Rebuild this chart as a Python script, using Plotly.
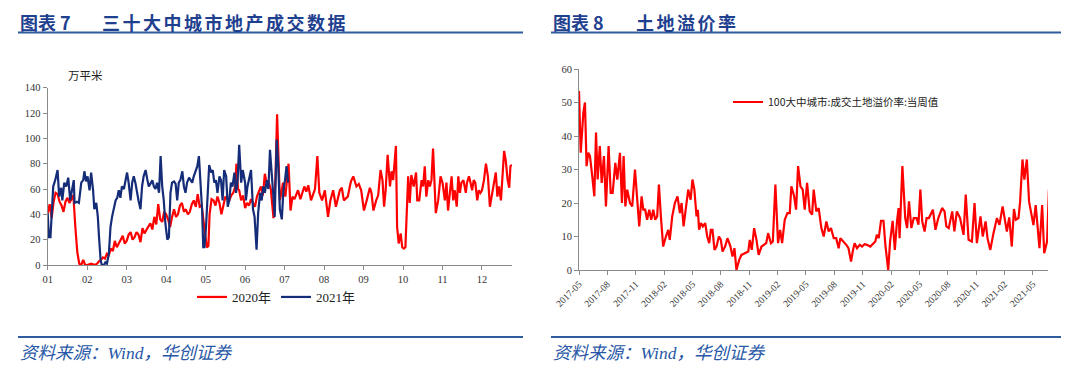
import plotly.graph_objects as go

# ---------------- Left chart: 30 major cities property transactions (万平米) ----------------
month_labels = ["01", "02", "03", "04", "05", "06", "07", "08", "09", "10", "11", "12"]

# x = position in months since Jan 1 (01 tick = 0)
y2020_x = [0.0, 0.05, 0.1, 0.15, 0.2, 0.25, 0.3, 0.35, 0.4, 0.45, 0.5, 0.55, 0.6, 0.65, 0.7, 0.75, 0.8, 0.85, 0.9, 0.95,
           1.0, 1.1, 1.2, 1.25, 1.3, 1.35, 1.4, 1.45, 1.5, 1.55, 1.6, 1.65, 1.7, 1.75, 1.8, 1.85, 1.9, 1.95,
           2.0, 2.05, 2.1, 2.15, 2.2, 2.25, 2.3, 2.35, 2.4, 2.45, 2.5, 2.55, 2.6, 2.65, 2.7, 2.75, 2.8, 2.85, 2.9, 2.95,
           3.0, 3.05, 3.1, 3.15, 3.2, 3.25, 3.3, 3.35, 3.4, 3.45, 3.5, 3.55, 3.6, 3.65, 3.7, 3.75, 3.8, 3.85, 3.9, 3.95,
           4.0, 4.03, 4.07, 4.1, 4.15, 4.2, 4.25, 4.3, 4.35, 4.4, 4.45, 4.5, 4.55, 4.6, 4.65, 4.7, 4.75, 4.78, 4.82, 4.85, 4.9, 4.95,
           5.0, 5.05, 5.1, 5.15, 5.2, 5.25, 5.3, 5.35, 5.4, 5.45, 5.5, 5.55, 5.6, 5.65, 5.72, 5.77, 5.81, 5.85, 5.88, 5.93, 5.96,
           6.02, 6.1, 6.15, 6.2, 6.25, 6.34, 6.4, 6.5, 6.55, 6.6, 6.67, 6.77, 6.83, 6.88, 6.95,
           7.02, 7.1, 7.16, 7.23, 7.3, 7.4, 7.45, 7.5, 7.6, 7.68, 7.74, 7.82, 7.88, 7.94,
           8.01, 8.08, 8.16, 8.2, 8.25, 8.32, 8.37, 8.43, 8.48, 8.52, 8.56, 8.61, 8.67, 8.71, 8.75, 8.82, 8.85, 8.89, 8.94, 8.98,
           9.02, 9.06, 9.09, 9.13, 9.17, 9.21, 9.27, 9.33, 9.36, 9.41, 9.47, 9.51, 9.55, 9.59, 9.64, 9.68, 9.72, 9.76, 9.83, 9.89, 9.95,
           10.0, 10.06, 10.1, 10.14, 10.19, 10.23, 10.27, 10.31, 10.36, 10.4, 10.44, 10.48, 10.53, 10.59, 10.62, 10.67, 10.71, 10.75,
           10.79, 10.83, 10.88, 10.92, 10.96, 11.0, 11.05, 11.1, 11.15, 11.2, 11.26, 11.31, 11.35, 11.39, 11.43, 11.48, 11.52, 11.56,
           11.6, 11.65, 11.69, 11.72, 11.76]
y2020_v = [41, 48, 37, 50, 57, 56, 50, 47, 42, 50, 53, 49, 52, 55, 30, 10, 1, 0, 4, 0,
           0, 1, 0, 1, 3, 4, 6, 5, 9, 8, 13, 11, 19, 14, 17, 20, 23, 17,
           19, 24, 26, 20, 22, 26, 24, 18, 29, 25, 28, 31, 33, 28, 38, 32, 48, 36, 34, 42,
           40, 36, 30, 38, 44, 38, 40, 47, 49, 42, 44, 40, 42, 48, 51, 46, 56, 46, 47, 34,
           22, 14, 15, 40, 52, 51, 47, 54, 49, 40, 47, 54, 52, 51, 55, 57, 62, 80, 60, 59, 51, 55,
           45, 49, 47, 52, 49, 46, 54, 58, 62, 55, 72, 64, 65, 60, 37, 70, 119, 80, 51, 59, 65,
           54, 80, 43, 54, 52, 59, 52, 62, 58, 63, 51, 60, 86, 57, 51,
           59, 38, 51, 59, 46, 59, 61, 51, 54, 66, 70, 62, 64, 59,
           43, 51, 61, 57, 43, 51, 55, 75, 67, 46, 59, 87, 62, 74, 67, 94, 30, 17, 25, 14,
           13, 14, 38, 70, 49, 71, 62, 73, 51, 51, 67, 62, 78, 54, 67, 62, 67, 92, 41, 51, 70,
           65, 51, 65, 43, 57, 70, 51, 59, 46, 70, 57, 65, 67, 57, 65, 70, 65, 59,
           67, 65, 51, 59, 57, 59, 67, 80, 70, 46, 57, 67, 73, 54, 62, 51, 75, 90,
           83, 67, 61, 78, 79]

y2021_x = [0.0, 0.03, 0.07, 0.14, 0.19, 0.25, 0.29, 0.34, 0.37, 0.42, 0.47, 0.52, 0.57, 0.62, 0.66, 0.68, 0.74, 0.79, 0.85, 0.9,
           0.93, 0.97, 1.01, 1.06, 1.1, 1.15, 1.18, 1.23, 1.27, 1.3, 1.34, 1.37, 1.42, 1.46, 1.5, 1.55, 1.59, 1.63, 1.67, 1.72,
           1.76, 1.8, 1.84, 1.88, 1.93, 1.97, 2.01, 2.05, 2.1, 2.14, 2.18, 2.22, 2.27, 2.3, 2.35, 2.39, 2.43, 2.48, 2.52, 2.56,
           2.6, 2.65, 2.69, 2.73, 2.77, 2.82, 2.86, 2.9, 2.94, 2.98, 3.03, 3.07, 3.11, 3.15, 3.2, 3.24, 3.28, 3.32, 3.36, 3.41,
           3.45, 3.49, 3.53, 3.58, 3.62, 3.66, 3.7, 3.75, 3.79, 3.83, 3.87, 3.91, 3.94, 3.97, 4.01, 4.05, 4.09, 4.14, 4.18, 4.22,
           4.26, 4.3, 4.35, 4.39, 4.43, 4.47, 4.52, 4.56, 4.6, 4.64, 4.68, 4.73, 4.77, 4.81, 4.85, 4.9, 4.94, 5.0, 5.02, 5.06,
           5.11, 5.15, 5.2, 5.24, 5.29, 5.33, 5.38, 5.42, 5.46, 5.5, 5.55, 5.59, 5.63, 5.67, 5.71, 5.75, 5.8, 5.84, 5.88, 5.93,
           5.97, 6.01, 6.05, 6.09]
y2021_v = [41, 22, 22, 62, 67, 75, 54, 61, 51, 65, 62, 69, 51, 62, 67, 49, 50, 49, 65, 67,
           74, 66, 70, 59, 73, 59, 44, 49, 38, 22, 4, 0, 0, 2, 1, 9, 30, 38, 44, 51,
           53, 59, 53, 62, 60, 67, 73, 65, 51, 65, 70, 65, 55, 51, 44, 62, 70, 75, 68, 62,
           64, 67, 62, 60, 65, 57, 86, 62, 51, 33, 20, 22, 57, 65, 66, 64, 51, 65, 67, 74,
           62, 57, 65, 69, 67, 65, 70, 75, 78, 86, 62, 44, 14, 14, 30, 51, 79, 73, 75, 65,
           67, 57, 70, 67, 51, 75, 70, 46, 51, 65, 62, 73, 57, 67, 95, 65, 75, 65, 51, 62,
           70, 75, 44, 38, 12, 41, 57, 51, 62, 57, 67, 60, 91, 70, 57, 38, 99, 78, 44, 36,
           59, 67, 78, 65]

left_yticks = [0, 20, 40, 60, 80, 100, 120, 140]

# ---------------- Right chart: land premium rate (%) ----------------
quarter_labels = ["2017-05", "2017-08", "2017-11", "2018-02", "2018-05", "2018-08", "2018-11", "2019-02",
                  "2019-05", "2019-08", "2019-11", "2020-02", "2020-05", "2020-08", "2020-11", "2021-02", "2021-05"]
# x = months since 2017-05
prem_x = [0, 0.1, 0.18, 0.3, 0.46, 0.63, 0.8, 0.98, 1.16, 1.4, 1.62, 1.8, 1.97, 2.2, 2.4, 2.64, 2.85, 3.13, 3.35, 3.56,
          3.84, 4.05, 4.33, 4.54, 4.72, 4.9, 5.1, 5.39, 5.63, 5.92, 6.16, 6.37, 6.62, 6.8, 7.0, 7.2, 7.43, 7.64, 7.85,
          8.06, 8.27, 8.45, 8.66, 8.9, 9.19, 9.44, 9.6, 9.86, 10.14, 10.42, 10.67, 10.85, 11.06, 11.27, 11.55, 11.8,
          12.0, 12.2, 12.43, 12.57, 12.7, 12.9, 13.1, 13.35, 13.56, 13.77, 13.94, 14.12, 14.33, 14.54, 14.8, 15.0,
          15.18, 15.45, 15.7, 16.02, 16.23, 16.44, 16.65, 16.94, 17.18, 17.54, 17.9, 18.06, 18.27, 18.52, 18.77, 19.0,
          19.3, 19.8, 20.0, 20.3, 20.5, 20.77, 21.05, 21.27, 21.48, 21.76, 22.04, 22.29, 22.46, 22.75, 22.96, 23.17,
          23.42, 23.66, 23.87, 24.12, 24.4, 24.65, 24.82, 25.1, 25.35, 25.63, 25.88, 26.16, 26.4, 26.65, 26.94, 27.2,
          27.46, 27.64, 28.0, 28.27, 28.5, 28.77, 28.98, 29.15, 29.4, 29.7, 29.93, 30.2, 30.46, 30.8, 31.34, 31.5,
          31.7, 31.94, 32.2, 32.4, 32.7, 32.9, 33.17, 33.4, 33.63, 33.8, 33.9, 34.2, 34.5, 34.7, 34.9, 35.15, 35.4,
          35.7, 35.9, 36.1, 36.3, 36.55, 36.76, 37.0, 37.43, 37.7, 38.0, 38.4, 38.66, 38.85, 39.1, 39.47, 39.7, 39.96,
          40.3, 40.67, 40.9, 41.2, 41.55, 41.83, 42.08, 42.46, 42.7, 43.0, 43.2, 43.5, 43.8, 44.2, 44.47, 44.8, 45.25,
          45.5, 45.77, 46.0, 46.2, 46.48, 46.65, 46.9, 47.1, 47.36, 47.6, 47.8, 48.06, 48.3, 48.7, 48.98, 49.2, 49.5, 49.7]
prem_v = [53.4, 44, 35, 40, 47, 50, 31, 35, 34, 28, 22, 41, 27, 37, 26, 34, 19, 37, 23, 23,
          32, 27, 35, 20, 34, 19, 24, 20, 19, 30, 19, 13, 22, 18, 18, 15, 18, 15, 18,
          15, 16, 25.5, 16, 7, 10, 12, 9, 16, 20, 22, 17, 20, 13, 18, 24, 21,
          27, 24, 16, 18, 12, 14, 13, 14, 10, 8, 12, 12, 6, 7, 10, 9,
          5.5, 7, 9.5, 7, 4, 6.5, 0, 3, 4.5, 5, 5.5, 9, 6, 12.5, 9, 4.5,
          7, 8, 11, 8, 8.5, 25.5, 8, 12, 8, 15, 17, 17, 25, 22, 18, 31,
          25, 24, 18, 26, 17.5, 16.5, 24, 17.5, 18.5, 12.5, 10, 14.5, 11.5, 12.5, 9.5, 9.5,
          6.5, 9.5, 8.5, 7.5, 6.5, 2.5, 6, 8, 6.5, 7.5, 7, 7.7, 7.5, 7, 8.5, 10.5,
          9.5, 14.7, 14.7, 7.5, 0, 8.5, 14.7, 6, 14.5, 18.5, 9.5, 31, 15.5, 12.5, 20.5, 12.5, 15.5,
          15.5, 13.5, 24, 14.5, 11.5, 15.5, 15.5, 18, 12, 15.5, 18.5, 17.5, 13, 12.5, 17.5, 11.5, 17.5,
          15.5, 10.5, 22.5, 9, 8.5, 20, 8, 16, 10, 14.5, 9.5, 6, 10.5, 15.5, 13.5, 19, 11.5,
          15.7, 7, 18.2, 15, 15.5, 20.4, 33, 27, 33, 20.4, 17.5, 13.4, 19.4, 6.5, 19.4, 5, 8.5, 24]
right_yticks = [0, 10, 20, 30, 40, 50, 60]

# ---------------- Figure ----------------
# The page body has an 8px margin, so the figure is 16px smaller than the window and
# all target screen positions are shifted by -8px.
OFF = 8
W, H = 1080 - 2 * OFF, 376 - 2 * OFF
RED = "#FF0000"
NAVY = "#152C78"
BLUE_TXT = "#1F3F8F"
AX = "#8a8a8a"
TICKFONT = dict(family="Liberation Serif", size=10.5, color="#333333")

def px(x):
    return (x - OFF) / W

def py(y):
    return 1 - (y - OFF) / H

fig = go.Figure()
fig.add_trace(go.Scatter(x=y2020_x, y=y2020_v, mode="lines", name="2020年",
                         line=dict(color=RED, width=2.2), xaxis="x", yaxis="y", legend="legend"))
fig.add_trace(go.Scatter(x=y2021_x, y=y2021_v, mode="lines", name="2021年",
                         line=dict(color=NAVY, width=2.2), xaxis="x", yaxis="y", legend="legend"))
fig.add_trace(go.Scatter(x=prem_x, y=prem_v, mode="lines", name="100大中城市:成交土地溢价率:当周值",
                         line=dict(color=RED, width=2.2), xaxis="x2", yaxis="y2", legend="legend2"))

axis_common = dict(showline=True, linecolor=AX, linewidth=1, ticks="outside", tickcolor=AX,
                   ticklen=4, showgrid=False, zeroline=False, tickfont=TICKFONT, automargin=False)

fig.update_layout(
    template="none",
    width=W, height=H, margin=dict(l=0, r=0, t=0, b=0, pad=0), autosize=False,
    paper_bgcolor="white", plot_bgcolor="white",
    xaxis=dict(domain=[px(47.7), px(512)], range=[0, 11.76], tickmode="array",
               tickvals=list(range(12)), ticktext=month_labels, anchor="y", **axis_common),
    yaxis=dict(domain=[py(265), py(87.7)], range=[0, 140], tickmode="array",
               tickvals=left_yticks, anchor="x", **axis_common),
    xaxis2=dict(domain=[px(579), px(1048)], range=[0, 49.6], tickmode="array",
                tickvals=[3 * i for i in range(len(quarter_labels))], ticktext=quarter_labels,
                tickangle=-45, anchor="y2", **{**axis_common, "tickfont": dict(family="Liberation Serif", size=9.5, color="#333333")}),
    yaxis2=dict(domain=[py(270), py(69)], range=[0, 60], tickmode="array",
                tickvals=right_yticks, anchor="x2", **axis_common),
    legend=dict(orientation="h", x=px(192), y=py(297), xanchor="left", yanchor="middle",
                font=dict(family="Liberation Serif, Noto Sans CJK SC", size=13, color="#222222"),
                itemwidth=30, bgcolor="rgba(0,0,0,0)", tracegroupgap=0),
    legend2=dict(orientation="h", x=px(728), y=py(102), xanchor="left", yanchor="middle",
                 font=dict(family="Noto Sans CJK SC", size=10.5, color="#222222"),
                 itemwidth=30, bgcolor="rgba(0,0,0,0)"),
    showlegend=True,
)

# Titles (anchored at the top edge so that they are not clipped)
title_font = dict(family="Noto Sans CJK SC", size=18, color=BLUE_TXT)
SP = '<span style="letter-spacing:2.5px">'
titles = [
    dict(text="<b>图表 7</b>", x=px(19)),
    dict(text="<b>" + SP + "三十大中城市地产成交数据</span></b>", x=px(101)),
    dict(text="<b>图表 8</b>", x=px(552)),
    dict(text="<b>" + SP + "土地溢价率</span></b>", x=px(635)),
]
for t in titles:
    fig.add_annotation(xref="paper", yref="paper", xanchor="left", yanchor="top", y=1.0,
                       showarrow=False, borderpad=0, font=title_font, **t)

ann = [
    dict(text="<i>资料来源：Wind，华创证券</i>", x=px(18), y=py(353),
         font=dict(family="Liberation Serif, Noto Sans CJK SC", size=17.5, color="#2757A6")),
    dict(text="<i>资料来源：Wind，华创证券</i>", x=px(551), y=py(353),
         font=dict(family="Liberation Serif, Noto Sans CJK SC", size=17.5, color="#2757A6")),
    dict(text="万平米", x=px(66), y=py(75), font=dict(family="Noto Sans CJK SC", size=11.5, color="#222222")),
]
for a in ann:
    fig.add_annotation(xref="paper", yref="paper", xanchor="left", yanchor="middle", showarrow=False, **a)

# Separator lines
for x0, x1 in [(18, 523), (551, 1061)]:
    fig.add_shape(type="line", xref="paper", yref="paper", x0=px(x0), x1=px(x1), y0=py(32.5), y1=py(32.5),
                  line=dict(color="#2E5C9E", width=2))
    fig.add_shape(type="line", xref="paper", yref="paper", x0=px(x0), x1=px(x1), y0=py(337), y1=py(337),
                  line=dict(color="#2E5C9E", width=2))

fig.write_html("out.html")
